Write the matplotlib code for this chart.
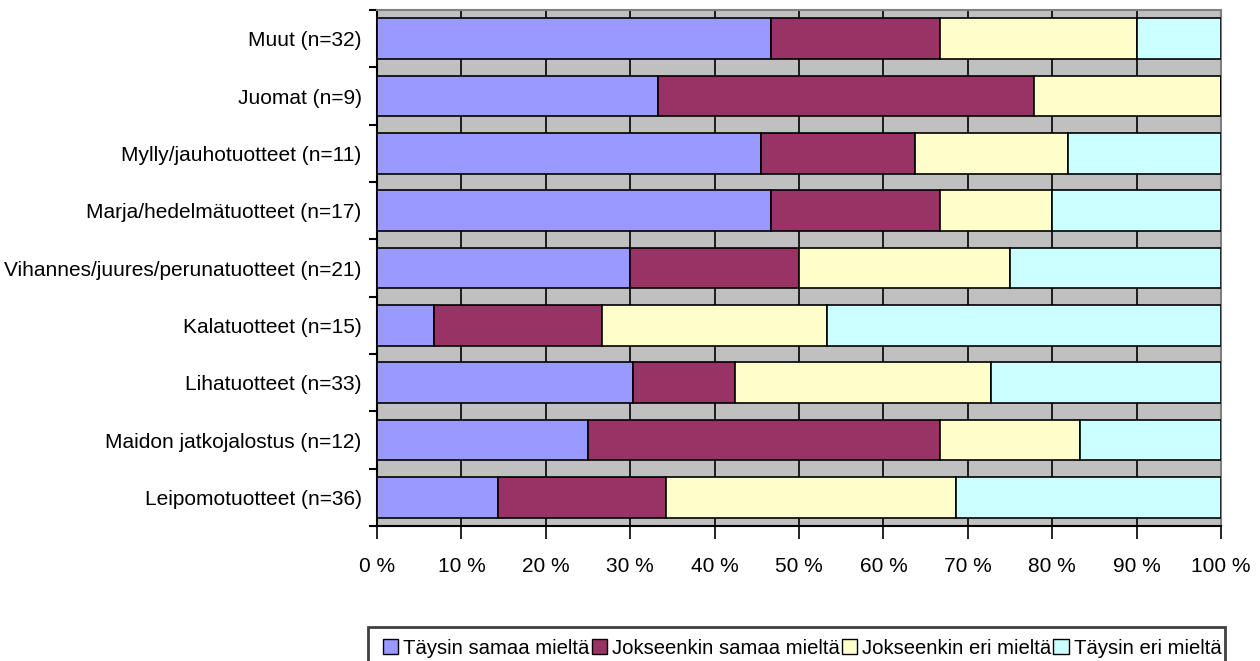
import matplotlib
matplotlib.use("Agg")
import matplotlib.pyplot as plt
from matplotlib import font_manager
from matplotlib.patches import Rectangle
import numpy as np

plt.rcParams["font.family"] = ["Liberation Sans", "DejaVu Sans"]

# Narrow face for axis labels when it is available
_names = {f.name for f in font_manager.fontManager.ttflist}
if "Liberation Sans Narrow" in _names:
    label_font = ["Liberation Sans Narrow", "DejaVu Sans"]
    cat_size, tick_size = 17.0, 17.5
else:
    label_font = ["Liberation Sans", "DejaVu Sans"]
    cat_size, tick_size = 15.0, 15.0

# Categories listed bottom to top
categories = [
    "Leipomotuotteet (n=36)",
    "Maidon jatkojalostus (n=12)",
    "Lihatuotteet (n=33)",
    "Kalatuotteet (n=15)",
    "Vihannes/juures/perunatuotteet (n=21)",
    "Marja/hedelmätuotteet (n=17)",
    "Mylly/jauhotuotteet (n=11)",
    "Juomat (n=9)",
    "Muut (n=32)",
]

# Shares (%) of each answer per category
taysin_samaa = [14.3, 25.0, 30.3, 6.7, 30.0, 46.7, 45.5, 33.3, 46.7]
jokseenkin_samaa = [20.0, 41.7, 12.1, 20.0, 20.0, 20.0, 18.2, 44.5, 20.0]
jokseenkin_eri = [34.3, 16.6, 30.3, 26.6, 25.0, 13.3, 18.2, 22.2, 23.3]
taysin_eri = [31.4, 16.7, 27.3, 46.7, 25.0, 20.0, 18.1, 0.0, 10.0]

series_names = ["Täysin samaa mieltä", "Jokseenkin samaa mieltä",
                "Jokseenkin eri mieltä", "Täysin eri mieltä"]
series_colors = ["#9999FF", "#993366", "#FFFFCC", "#CCFFFF"]
x_ticks = list(range(0, 101, 10))
x_tick_labels = [f"{v} %" for v in x_ticks]

W, H = 1260, 661
fig = plt.figure(figsize=(W / 100, H / 100), dpi=100)
ax = fig.add_axes([377 / W, 1 - 526 / H, (1221 - 377) / W, (526 - 10) / H])
ax.set_facecolor("#C0C0C0")

y = np.arange(len(categories))
left = np.zeros(len(categories))
handles = []
for vals, name, col in zip([taysin_samaa, jokseenkin_samaa, jokseenkin_eri, taysin_eri],
                           series_names, series_colors):
    vals = np.array(vals)
    b = ax.barh(y, vals, left=left, height=0.714, color=col, edgecolor="black",
                linewidth=1.2, label=name, zorder=3)
    handles.append(b)
    left = left + vals

ax.set_xlim(0, 100)
ax.set_ylim(-0.5, len(categories) - 0.5)

# x axis
ax.set_xticks(x_ticks)
ax.set_xticklabels(x_tick_labels, fontsize=tick_size, family=label_font)
ax.tick_params(axis="x", direction="out", length=9, width=1.2, pad=13, colors="black")
ax.xaxis.grid(True, color="black", linewidth=1.2, zorder=1)
ax.set_axisbelow(True)

# y axis: ticks between categories, labels at category centres
ax.set_yticks(np.arange(-0.5, len(categories), 1.0))
ax.set_yticklabels([])
ax.tick_params(axis="y", which="major", direction="out", length=6, width=1.5)
ax.set_yticks(y, minor=True)
ax.set_yticklabels(categories, minor=True, fontsize=cat_size, family=label_font)
ax.tick_params(axis="y", which="minor", length=0, pad=11)

for side in ["top", "right"]:
    ax.spines[side].set_color("#808080")
    ax.spines[side].set_linewidth(1.5)
for side in ["left", "bottom"]:
    ax.spines[side].set_color("black")
    ax.spines[side].set_linewidth(1.5)

# Legend row along the bottom, with its own frame running off the lower edge
leg = fig.legend(handles=handles, labels=series_names, ncol=4,
                 loc="center left", bbox_to_anchor=(383 / W, 1 - 648 / H),
                 frameon=False, fontsize=14.6, handlelength=0.75, handleheight=0.75,
                 handletextpad=0.25, columnspacing=0.1, borderpad=0,
                 borderaxespad=0)
for h in leg.legend_handles:
    h.set_linewidth(1)
fig.patches.append(Rectangle((368 / W, 1 - 675 / H), (1225 - 368) / W, (675 - 627) / H,
                             transform=fig.transFigure, fill=False,
                             edgecolor="#404040", linewidth=2))

fig.savefig("out.png", dpi=100)
